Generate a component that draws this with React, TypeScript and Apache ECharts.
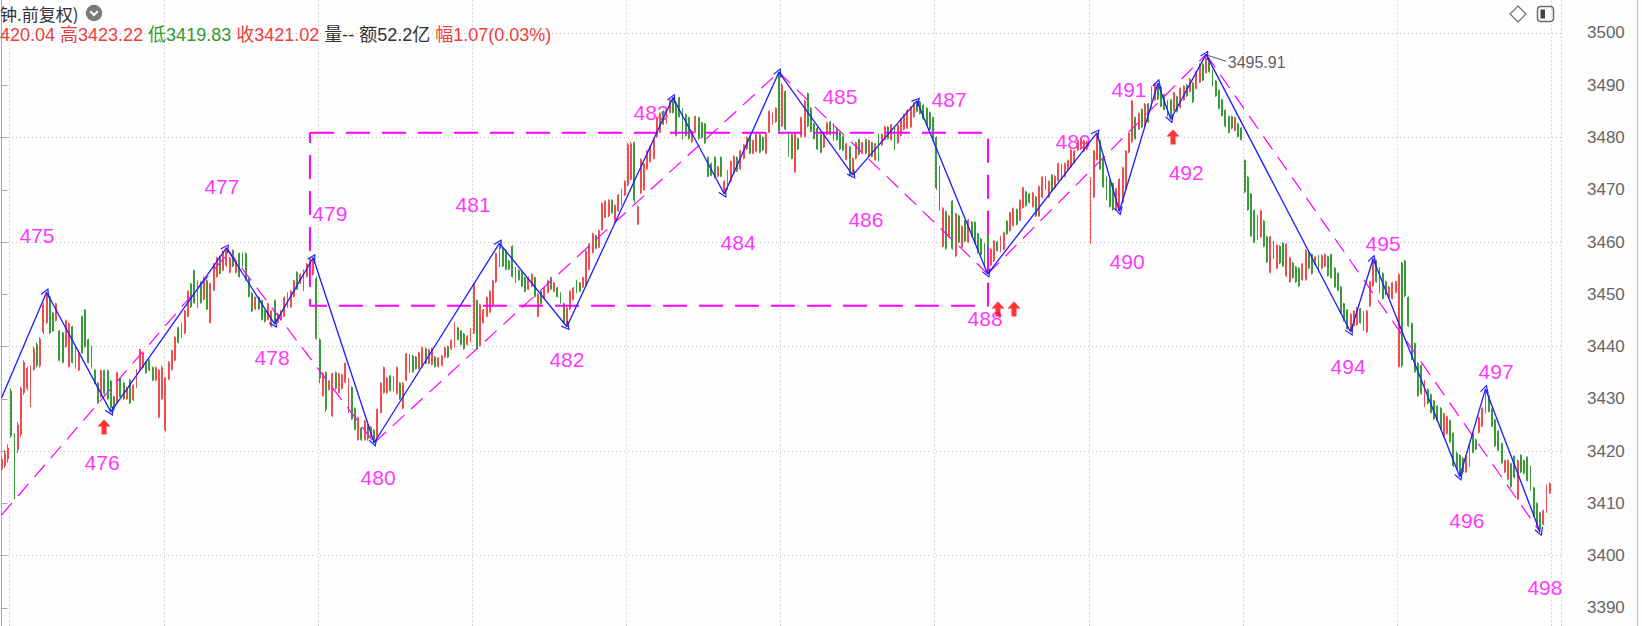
import React, { useEffect, useRef } from 'react';
import * as echarts from 'echarts';

// each bar: [open, close, low, high]
const wave475 = [
  [3416.6,3418.4,3416.2,3419.0],[3417.2,3419.6,3416.8,3420.2],[3418.5,3420.6,3417.8,3421.3],
  [3431.5,3423.0,3422.6,3432.0],[3423.0,3412.0,3410.8,3423.4],[3420.2,3425.0,3419.6,3425.6],
  [3423.2,3432.0,3422.7,3432.4],[3431.2,3437.0,3430.8,3437.4],[3432.0,3435.8,3431.6,3436.2],
  [3429.0,3436.0,3428.4,3436.4],[3435.6,3439.6,3435.4,3440.0],[3440.4,3436.4,3436.0,3440.8],
  [3436.4,3441.4,3436.0,3441.8],[3442.8,3448.0,3442.4,3448.4],[3444.6,3450.0,3444.3,3450.4],
];
const wave476 = [
  [3449.5,3442.6,3442.4,3449.8],[3446.4,3443.0,3442.8,3446.6],[3445.0,3448.2,3444.8,3448.4],
  [3443.0,3437.4,3437.2,3443.2],[3442.6,3437.0,3436.8,3442.8],[3440.0,3445.0,3439.8,3445.2],
  [3436.2,3444.4,3436.0,3444.6],[3443.8,3437.0,3436.8,3444.0],[3436.0,3440.0,3435.8,3440.2],
  [3435.5,3438.8,3435.3,3439.4],[3445.7,3438.8,3438.6,3445.9],[3447.0,3440.0,3439.8,3447.2],
  [3441.3,3437.0,3436.8,3441.5],[3440.0,3436.0,3435.8,3440.2],[3435.5,3433.0,3432.8,3435.7],
  [3433.0,3429.2,3429.0,3433.2],[3430.4,3435.4,3430.2,3435.6],[3435.4,3431.0,3430.8,3435.6],
  [3435.4,3430.0,3429.8,3435.6],[3433.4,3428.4,3427.5,3433.6],
];
const wave477 = [
  [3430.4,3428.0,3427.6,3430.6],[3429.2,3435.0,3429.0,3435.2],[3434.0,3430.4,3430.2,3434.2],
  [3433.0,3430.0,3429.8,3433.2],[3430.0,3432.0,3429.8,3432.3],[3433.6,3429.2,3429.0,3433.8],
  [3429.8,3432.6,3429.6,3432.8],[3432.3,3435.5,3432.1,3435.7],[3435.5,3439.4,3435.3,3439.6],
  [3436.0,3438.8,3435.8,3439.0],[3437.0,3435.0,3434.8,3437.2],[3437.4,3435.5,3435.3,3437.6],
  [3436.0,3433.6,3433.4,3436.2],[3433.6,3436.0,3433.4,3436.2],[3426.5,3435.5,3426.3,3435.7],
  [3430.0,3436.0,3429.8,3436.4],[3424.0,3434.0,3423.7,3434.2],
  [3433.8,3437.0,3433.6,3437.2],[3435.6,3439.2,3435.4,3439.4],[3437.4,3441.8,3437.2,3442.0],
  [3443.6,3440.8,3440.6,3443.8],[3441.8,3444.4,3441.6,3444.6],[3442.6,3446.8,3442.4,3447.0],
  [3445.8,3450.6,3445.6,3450.8],[3452.0,3447.6,3447.4,3452.2],[3454.5,3448.4,3448.2,3454.7],
  [3447.6,3452.6,3447.4,3452.8],[3452.3,3448.4,3448.2,3452.5],[3449.0,3453.2,3448.8,3453.4],
  [3452.6,3447.2,3447.0,3452.8],[3444.6,3452.0,3444.4,3452.2],[3450.8,3455.8,3450.6,3456.0],
  [3453.4,3457.0,3453.2,3457.2],[3457.0,3454.0,3453.8,3457.4],[3454.6,3458.2,3454.4,3458.4],
  [3455.6,3458.6,3455.2,3458.9],
];
const wave478 = [
  [3454.2,3457.0,3454.0,3457.2],[3458.4,3455.4,3455.2,3458.6],[3454.2,3456.4,3454.0,3456.6],
  [3457.8,3453.4,3453.2,3458.0],[3457.8,3455.4,3455.2,3458.0],[3457.8,3452.8,3452.6,3458.0],
  [3453.2,3449.6,3449.4,3453.4],[3450.2,3446.8,3446.6,3450.4],[3447.2,3449.4,3447.0,3449.6],
  [3449.4,3447.2,3447.0,3449.6],[3448.8,3445.2,3445.0,3449.0],[3446.8,3444.8,3444.6,3447.0],
  [3445.2,3448.2,3445.0,3448.4],[3443.9,3446.8,3443.7,3447.0],[3448.8,3444.6,3444.3,3449.0],
];
const wave479 = [
  [3444.6,3446.2,3444.4,3446.4],[3445.2,3446.8,3445.0,3447.0],[3445.8,3449.4,3445.6,3449.6],
  [3447.6,3450.2,3447.4,3450.4],[3447.6,3450.6,3447.4,3450.8],[3449.6,3452.6,3449.4,3452.8],
  [3454.2,3451.0,3450.8,3454.4],[3452.2,3453.8,3452.0,3454.0],[3450.8,3454.6,3450.6,3454.8],
  [3453.4,3455.8,3453.2,3456.0],[3455.2,3456.8,3455.0,3457.0],[3453.8,3456.6,3453.6,3457.0],
];
const wave480 = [
  [3453.0,3441.6,3441.3,3453.4],[3441.3,3434.0,3433.0,3441.6],[3430.6,3434.8,3430.4,3435.0],
  [3435.0,3428.0,3427.5,3435.2],[3431.8,3433.4,3431.6,3433.6],[3426.8,3434.8,3426.5,3435.0],
  [3435.0,3432.0,3431.7,3435.2],[3431.2,3434.8,3431.0,3435.0],[3432.0,3434.6,3431.8,3434.8],
  [3433.2,3436.8,3433.0,3437.0],[3427.6,3433.8,3427.3,3434.0],[3432.2,3426.2,3426.0,3432.4],
  [3428.2,3424.2,3424.0,3428.4],[3422.2,3426.4,3422.0,3426.6],[3424.4,3422.2,3422.0,3424.6],
  [3422.2,3425.8,3422.0,3426.0],[3425.0,3422.4,3422.0,3425.2],[3422.8,3424.6,3422.4,3424.8],
  [3424.0,3422.0,3421.6,3424.2],
];
const wave481 = [
  [3422.8,3428.0,3422.6,3428.2],[3427.4,3433.0,3427.2,3433.2],[3431.2,3436.0,3431.0,3436.2],
  [3431.2,3434.0,3431.0,3434.2],[3434.4,3431.6,3431.4,3434.6],[3431.6,3434.2,3431.4,3434.4],
  [3431.0,3436.0,3430.8,3436.2],[3433.0,3430.0,3429.8,3433.2],[3428.2,3433.0,3428.0,3433.2],
  [3433.6,3438.6,3433.4,3438.8],[3435.2,3438.4,3435.0,3438.6],[3438.2,3435.2,3435.0,3438.4],
  [3438.0,3435.8,3435.6,3438.2],[3435.8,3438.8,3435.6,3439.0],[3436.2,3439.8,3436.0,3440.0],
  [3439.6,3436.8,3436.6,3439.8],[3436.8,3439.4,3436.6,3439.6],[3436.6,3439.6,3436.4,3439.8],
  [3438.0,3436.2,3436.0,3438.2],[3436.2,3437.8,3436.0,3438.0],[3436.4,3438.2,3436.2,3438.4],
  [3438.0,3439.8,3437.8,3440.0],[3440.0,3438.0,3437.8,3440.2],[3439.6,3441.2,3439.4,3441.4],
  [3440.0,3444.4,3439.8,3444.6],[3443.6,3441.4,3441.2,3443.8],[3443.0,3440.4,3440.2,3443.2],
  [3442.4,3439.6,3439.4,3442.6],[3440.4,3442.0,3440.2,3442.2],[3441.0,3443.4,3440.8,3443.6],
  [3442.6,3452.0,3442.4,3452.2],[3448.8,3439.6,3439.4,3449.0],[3440.2,3448.0,3440.0,3448.2],
  [3444.6,3447.0,3444.4,3447.2],[3445.8,3449.4,3445.6,3449.6],[3446.6,3450.6,3446.4,3450.8],
  [3447.8,3452.6,3447.6,3452.8],[3452.4,3457.8,3452.2,3458.0],[3455.4,3459.6,3455.2,3459.8],
];
const wave482 = [
  [3458.8,3455.4,3455.2,3459.0],[3458.4,3454.8,3454.6,3458.6],[3456.4,3454.8,3454.6,3456.6],
  [3459.2,3453.4,3453.2,3459.4],[3455.0,3452.4,3452.2,3455.2],[3454.6,3452.8,3452.6,3454.8],
  [3454.2,3451.6,3451.4,3454.4],[3453.2,3450.6,3450.4,3453.4],[3451.0,3453.2,3450.8,3453.4],
  [3451.6,3453.8,3451.4,3454.0],[3453.2,3449.6,3449.4,3453.4],[3445.8,3450.0,3445.6,3450.2],
  [3450.6,3448.2,3448.0,3450.8],[3449.2,3451.2,3449.0,3451.4],[3450.4,3452.6,3450.2,3452.8],
  [3453.2,3451.0,3450.8,3453.4],[3450.6,3452.2,3450.4,3452.4],[3451.2,3449.6,3449.4,3451.4],
  [3450.2,3448.4,3448.2,3450.4],[3448.2,3444.6,3444.4,3448.4],[3444.0,3447.4,3443.8,3447.6],
];
const wave483 = [
  [3447.2,3450.6,3447.0,3450.8],[3449.0,3451.2,3448.8,3451.4],[3452.6,3450.4,3450.2,3452.8],
  [3452.2,3450.6,3450.4,3452.4],[3451.4,3453.2,3451.2,3453.4],[3451.6,3458.2,3451.4,3458.5],
  [3454.8,3459.6,3454.6,3459.8],[3458.0,3461.6,3457.8,3461.8],[3461.2,3458.8,3458.6,3461.4],
  [3459.0,3462.2,3458.8,3462.4],[3462.4,3467.4,3462.2,3467.6],[3464.8,3467.8,3464.6,3468.0],
  [3465.0,3468.0,3464.8,3468.2],[3468.0,3465.6,3465.4,3468.2],[3464.2,3467.0,3464.0,3467.2],
  [3466.0,3469.0,3465.8,3469.2],[3467.2,3470.0,3467.0,3470.2],[3469.0,3471.6,3468.8,3471.8],
  [3471.0,3478.6,3470.6,3479.0],[3472.0,3478.8,3471.8,3479.2],[3479.0,3468.0,3467.5,3479.2],
  [3463.4,3466.8,3463.3,3467.0],[3469.4,3475.8,3469.2,3476.0],[3470.0,3475.0,3469.8,3475.2],
  [3474.0,3477.4,3473.8,3477.6],[3475.4,3478.4,3475.2,3478.6],[3476.0,3479.6,3475.8,3479.8],
  [3480.2,3483.8,3480.0,3484.0],[3481.0,3484.6,3480.8,3484.8],[3485.0,3482.6,3482.4,3485.2],
  [3482.8,3485.4,3482.6,3485.6],[3484.8,3487.2,3484.6,3487.4],[3487.6,3484.8,3484.6,3487.6],
];
const wave484 = [
  [3486.6,3480.4,3480.2,3486.8],[3487.6,3484.0,3483.8,3487.8],[3485.4,3479.8,3479.6,3485.6],
  [3484.4,3480.4,3480.2,3484.6],[3483.8,3479.8,3479.6,3484.0],[3479.2,3481.2,3479.0,3481.4],
  [3481.0,3484.0,3480.8,3484.2],[3483.8,3479.8,3479.6,3484.0],[3482.8,3480.0,3479.8,3483.0],
  [3482.6,3479.0,3478.8,3482.8],[3476.2,3472.6,3472.4,3476.4],[3475.0,3472.8,3472.6,3475.2],
  [3476.2,3472.4,3472.2,3476.4],[3472.6,3474.4,3472.4,3474.6],[3476.2,3472.6,3472.4,3476.4],
  [3469.4,3471.6,3469.2,3471.8],
];
const wave485 = [
  [3470.2,3473.6,3470.0,3473.8],[3471.6,3475.4,3471.4,3475.6],[3473.2,3476.4,3473.0,3476.6],
  [3476.2,3473.6,3473.4,3476.4],[3474.0,3477.4,3473.8,3477.6],[3476.0,3478.6,3475.8,3478.8],
  [3477.8,3480.0,3477.6,3480.2],[3480.2,3477.0,3476.8,3480.4],[3477.0,3479.4,3476.8,3479.6],
  [3477.4,3480.6,3477.2,3480.8],[3480.6,3477.2,3477.0,3480.8],[3480.0,3477.6,3477.4,3480.2],
  [3477.0,3480.8,3476.8,3481.0],[3481.0,3485.0,3480.8,3485.2],[3482.6,3484.6,3482.4,3484.8],
  [3483.0,3485.6,3482.8,3485.8],[3492.4,3481.2,3481.0,3492.5],
];
const wave486 = [
  [3482.2,3490.0,3482.0,3490.4],[3488.8,3481.6,3481.4,3489.0],[3480.8,3476.6,3476.3,3481.0],
  [3480.6,3476.0,3475.8,3480.8],[3473.4,3480.8,3473.2,3481.0],[3479.8,3477.8,3477.6,3480.0],
  [3480.2,3483.8,3480.0,3484.0],[3480.2,3487.0,3480.0,3487.2],[3488.4,3482.2,3482.0,3488.6],
  [3485.6,3481.2,3481.0,3485.8],[3482.6,3479.8,3479.6,3482.8],[3481.8,3477.8,3477.6,3482.0],
  [3480.6,3477.2,3477.0,3480.8],[3478.2,3480.6,3478.0,3480.8],[3480.6,3482.8,3480.4,3483.0],
  [3483.0,3480.6,3480.4,3483.2],[3482.6,3479.6,3479.4,3482.8],[3481.8,3479.6,3479.4,3482.0],
  [3481.0,3477.8,3477.6,3481.2],[3480.2,3477.6,3477.4,3480.4],[3475.8,3478.8,3475.6,3479.0],
  [3478.2,3472.8,3472.6,3478.4],[3473.0,3476.0,3472.8,3476.2],
];
const wave487 = [
  [3476.0,3479.0,3475.8,3479.2],[3479.6,3476.8,3476.6,3479.8],[3477.0,3479.0,3476.8,3479.2],
  [3479.6,3477.0,3476.8,3479.8],[3476.4,3479.4,3476.2,3479.6],[3479.0,3476.4,3476.2,3479.2],
  [3475.8,3478.8,3475.6,3479.0],[3480.6,3475.6,3475.4,3480.8],[3478.6,3480.6,3478.4,3480.8],
  [3479.6,3482.0,3479.4,3482.2],[3482.0,3479.8,3479.6,3482.2],[3479.6,3482.4,3479.4,3482.6],
  [3481.8,3477.8,3477.6,3482.0],[3479.0,3482.4,3478.8,3482.6],[3480.4,3483.6,3480.2,3483.8],
  [3481.6,3484.4,3481.4,3484.6],[3481.8,3485.2,3481.6,3485.4],[3482.0,3485.8,3481.8,3486.0],
  [3484.0,3486.6,3483.8,3486.8],[3487.0,3485.0,3484.8,3487.0],
];
const wave488 = [
  [3486.8,3484.6,3484.4,3487.0],[3486.2,3483.6,3483.4,3486.4],[3485.6,3482.4,3482.2,3485.8],
  [3484.8,3481.6,3481.4,3485.0],[3483.8,3479.6,3479.4,3484.0],[3480.0,3470.4,3470.0,3480.2],
  [3474.4,3466.2,3466.0,3474.6],[3459.2,3466.4,3459.0,3466.7],[3465.8,3458.8,3458.5,3466.0],
  [3461.0,3465.0,3460.8,3465.2],[3467.8,3458.8,3458.5,3468.0],[3457.4,3465.4,3457.1,3465.6],
  [3465.0,3460.0,3459.8,3465.2],[3459.0,3463.0,3458.8,3463.2],[3464.0,3460.2,3460.0,3464.2],
  [3460.0,3464.2,3459.8,3464.4],[3463.8,3461.2,3461.0,3464.0],[3463.8,3459.8,3459.6,3464.0],
  [3461.6,3458.0,3457.8,3461.8],[3460.6,3457.6,3457.4,3460.8],[3459.6,3455.4,3455.2,3459.8],
  [3461.4,3454.0,3453.9,3461.7],
];
const wave489 = [
  [3455.6,3458.6,3455.4,3458.8],[3456.4,3460.2,3456.2,3460.4],[3460.0,3458.4,3458.2,3460.2],
  [3458.2,3461.0,3458.0,3461.2],[3458.6,3461.8,3458.4,3462.0],[3464.0,3461.6,3461.4,3464.2],
  [3462.2,3465.6,3462.0,3465.8],[3463.2,3466.4,3463.0,3466.6],[3466.2,3463.4,3463.2,3466.4],
  [3464.2,3468.0,3464.0,3468.2],[3466.6,3470.4,3466.4,3470.6],[3469.6,3467.0,3466.8,3469.8],
  [3469.2,3467.6,3467.4,3469.4],[3466.8,3469.4,3466.6,3469.6],[3468.6,3465.0,3464.8,3468.8],
  [3465.0,3470.6,3464.8,3470.8],[3468.6,3472.4,3468.4,3472.6],[3472.4,3470.2,3470.0,3472.6],
  [3468.6,3471.6,3468.4,3471.8],[3472.8,3470.0,3469.8,3473.0],[3470.4,3472.6,3470.2,3472.8],
  [3471.8,3475.0,3471.6,3475.2],[3474.8,3472.0,3471.8,3475.0],[3472.6,3475.0,3472.4,3475.2],
  [3473.8,3475.6,3473.6,3475.8],[3474.4,3477.6,3474.2,3477.8],[3475.2,3477.4,3475.0,3477.6],
  [3477.6,3479.4,3477.4,3479.6],[3477.8,3479.6,3477.6,3479.8],[3477.4,3479.4,3477.2,3479.6],
  [3477.8,3479.2,3477.6,3479.4],[3459.8,3472.2,3459.6,3472.4],[3468.6,3477.4,3468.4,3477.6],
  [3475.8,3480.6,3475.6,3480.9],
];
const wave490 = [
  [3479.4,3474.0,3473.8,3479.6],[3476.2,3470.6,3470.4,3476.4],[3472.4,3468.2,3468.0,3472.6],
  [3471.8,3466.8,3466.6,3472.0],[3471.2,3466.2,3466.0,3471.4],[3466.2,3470.2,3466.0,3470.4],
  [3466.0,3472.0,3465.9,3472.2],
];
const wave491 = [
  [3467.6,3474.2,3467.4,3474.4],[3470.2,3477.4,3470.0,3477.6],[3477.2,3480.8,3477.0,3481.0],
  [3479.2,3487.0,3479.0,3487.2],[3483.8,3479.8,3479.6,3484.0],[3481.6,3484.6,3481.4,3484.8],
  [3485.4,3482.0,3481.8,3485.6],[3482.2,3486.4,3482.0,3486.6],[3486.4,3483.0,3482.8,3486.6],
  [3485.8,3489.6,3485.6,3489.8],[3487.2,3490.2,3487.0,3490.4],[3490.2,3487.4,3487.2,3490.4],
];
const wave492 = [
  [3489.6,3486.0,3485.8,3489.8],[3488.2,3485.4,3485.2,3488.4],[3487.0,3484.2,3484.0,3487.2],
  [3487.2,3484.0,3483.5,3487.4],
];
const wave493 = [
  [3485.2,3488.6,3485.0,3488.8],[3487.8,3485.0,3484.8,3488.0],[3485.8,3489.4,3485.6,3489.6],
  [3487.2,3489.8,3487.0,3490.0],[3490.0,3488.0,3487.8,3490.2],[3488.8,3491.2,3488.6,3491.4],
  [3490.4,3486.8,3486.6,3490.6],[3489.4,3492.6,3489.2,3492.8],[3490.6,3494.0,3490.4,3494.2],
  [3494.0,3491.0,3490.8,3494.2],[3492.4,3495.2,3492.2,3495.91],
];
const wave494 = [
  [3495.0,3492.6,3492.4,3495.2],[3492.8,3490.0,3489.8,3493.0],[3490.8,3488.0,3487.8,3491.0],
  [3489.0,3485.6,3485.4,3489.2],[3487.2,3484.2,3484.0,3487.4],[3485.2,3482.2,3482.0,3485.4],
  [3484.0,3481.0,3480.8,3484.2],[3484.0,3481.8,3481.6,3484.2],[3481.4,3483.8,3481.2,3484.0],
  [3482.6,3480.2,3480.0,3482.8],[3481.8,3479.6,3479.4,3482.0],[3475.6,3469.6,3469.4,3475.8],
  [3472.4,3466.2,3466.0,3472.6],[3469.2,3461.2,3461.0,3469.4],[3466.0,3460.0,3459.8,3466.2],
  [3460.6,3465.0,3460.4,3465.2],[3461.0,3466.0,3460.8,3466.2],[3464.0,3459.2,3459.0,3464.2],
  [3461.0,3456.2,3456.0,3461.2],[3454.2,3461.0,3454.0,3461.2],[3460.0,3457.0,3456.8,3460.2],
  [3455.0,3459.4,3454.8,3459.6],[3459.2,3456.0,3455.8,3459.4],[3459.8,3455.4,3455.2,3460.0],
  [3453.6,3459.6,3453.3,3459.8],[3452.4,3457.0,3452.2,3457.2],[3456.0,3453.2,3453.0,3456.2],
  [3455.2,3452.4,3452.2,3455.4],[3455.0,3451.6,3451.4,3455.2],[3452.8,3455.8,3452.6,3456.0],
  [3452.8,3458.4,3452.6,3458.6],[3458.0,3455.0,3454.8,3458.2],[3457.6,3454.0,3453.8,3457.8],
  [3455.6,3457.2,3455.4,3457.4],[3457.4,3454.4,3454.2,3457.6],[3455.0,3457.4,3454.8,3457.6],
  [3455.4,3457.6,3455.2,3457.8],[3457.2,3453.6,3453.4,3457.4],[3457.6,3453.2,3453.0,3457.8],
  [3455.0,3451.4,3451.2,3455.2],[3454.0,3450.8,3450.6,3454.2],[3451.4,3446.4,3446.2,3451.6],
  [3448.2,3445.0,3444.8,3448.4],[3447.0,3443.4,3443.2,3447.2],[3443.0,3446.2,3442.8,3446.4],
];
const wave495 = [
  [3444.0,3446.8,3443.8,3447.0],[3444.2,3447.4,3444.0,3447.6],[3447.2,3444.6,3444.4,3447.4],
  [3443.2,3446.6,3443.0,3446.8],[3442.8,3446.8,3442.6,3447.0],[3447.8,3452.4,3447.6,3452.6],
  [3451.6,3456.4,3451.4,3456.8],
];
const wave496 = [
  [3456.4,3452.4,3452.2,3456.6],[3455.0,3450.4,3450.2,3455.2],[3454.0,3449.2,3449.0,3454.2],
  [3452.4,3450.0,3449.8,3452.6],[3449.4,3451.4,3449.2,3451.6],[3449.2,3452.2,3449.0,3452.4],
  [3450.4,3452.4,3450.2,3452.6],[3436.2,3453.8,3436.0,3454.0],[3456.0,3436.4,3436.0,3456.2],
  [3456.4,3449.8,3449.5,3456.6],[3449.4,3444.0,3443.8,3449.6],[3444.4,3437.6,3437.4,3444.6],
  [3440.6,3435.2,3435.0,3440.8],[3436.8,3430.6,3430.4,3437.0],[3436.4,3431.0,3430.8,3436.6],
  [3428.6,3433.4,3428.4,3433.6],[3431.8,3429.2,3429.0,3432.0],[3430.8,3427.4,3427.2,3431.0],
  [3429.6,3426.2,3426.0,3429.8],[3428.6,3425.8,3425.6,3428.8],[3428.2,3424.2,3424.0,3428.4],
  [3422.8,3427.2,3422.6,3427.4],[3423.4,3426.6,3423.2,3426.8],[3425.8,3421.8,3421.6,3426.0],
  [3423.4,3417.2,3417.0,3423.6],[3419.6,3416.6,3416.4,3419.8],[3419.2,3415.4,3415.1,3419.4],
];
const wave497 = [
  [3418.6,3416.0,3415.6,3418.8],[3416.0,3419.0,3415.8,3419.2],[3417.2,3421.4,3417.0,3421.6],
  [3423.4,3419.8,3419.6,3423.6],[3422.2,3420.4,3420.2,3422.4],[3423.6,3426.4,3423.4,3426.6],
  [3424.8,3428.2,3424.6,3428.4],[3427.4,3431.0,3427.2,3431.9],
];
const wave498 = [
  [3430.6,3427.6,3427.4,3430.8],[3428.0,3424.8,3424.6,3428.2],[3426.0,3421.0,3420.8,3426.2],
  [3423.8,3420.2,3420.0,3424.0],[3421.4,3417.8,3417.6,3421.6],[3416.0,3418.2,3415.8,3418.4],
  [3414.6,3418.2,3414.4,3418.4],[3417.6,3413.2,3413.0,3417.8],[3419.0,3415.0,3414.8,3419.2],
  [3410.8,3418.2,3410.6,3418.4],[3419.2,3416.0,3415.8,3419.4],[3418.2,3415.8,3415.6,3418.4],
  [3418.8,3414.4,3414.2,3419.0],[3417.0,3412.6,3412.4,3417.2],[3413.0,3407.6,3407.4,3413.2],
  [3410.0,3405.6,3405.4,3410.2],[3408.2,3405.0,3404.5,3408.4],
];
const afterWave498 = [
  [3406.0,3408.6,3405.8,3408.8],[3408.4,3413.4,3408.2,3413.6],[3412.0,3413.8,3411.8,3414.0],
];

const SLOT_COUNT = 486; // bar slots across the plot (last 3 empty)
const DAY_FIRST_SLOT = 3;
const BARS_PER_DAY = 48;

// zigzag pivots [bar index, price]
const pivots = [
  [0, 3430.2], [14, 3450.4], [34, 3427.5], [70, 3458.9], [85, 3444.3], [97, 3457.0],
  [116, 3421.6], [155, 3459.8], [176, 3443.8], [209, 3487.6], [225, 3469.2], [242, 3492.5],
  [265, 3472.8], [285, 3487.0], [307, 3453.9], [341, 3480.9], [348, 3465.9], [360, 3490.4],
  [364, 3483.5], [375, 3495.91], [420, 3442.8], [427, 3456.8], [454, 3415.1], [462, 3431.9],
  [479, 3404.5],
];

// magenta dashed channel lines
const channelLines = [
  [[0, 3407.8], [70, 3457.5]],
  [[70, 3458.9], [116, 3421.6]],
  [[116, 3421.6], [242, 3492.5]],
  [[242, 3492.5], [307, 3453.9]],
  [[307, 3453.9], [375, 3495.91]],
  [[375, 3495.91], [479, 3404.5]],
];

// dashed box corners
const boxLeft = 96.0, boxRight = 307.1, boxTop = 3480.9, boxBottom = 3447.8;

// wave number labels [text, bar position, price position]
const waveLabels = [
  ['475', 11.0, 3461.2], ['476', 31.3, 3417.9], ['477', 68.6, 3470.7], ['478', 84.2, 3438.0],
  ['479', 102.2, 3465.4], ['480', 117.2, 3414.9], ['481', 146.8, 3467.1], ['482', 176.0, 3437.6],
  ['483', 202.2, 3484.7], ['484', 229.3, 3460.0], ['485', 261.0, 3487.9], ['486', 269.1, 3464.4],
  ['487', 295.0, 3487.2], ['488', 306.2, 3445.3], ['489', 333.6, 3479.3], ['490', 350.4, 3456.2],
  ['491', 351.0, 3489.1], ['492', 368.8, 3473.4], ['494', 419.2, 3436.1], ['495', 430.1, 3459.8],
  ['496', 456.2, 3406.8], ['497', 465.3, 3435.3], ['498', 480.5, 3394.0],
];

// red buy-signal arrows [bar position, price]
const signalArrows = [[31.9, 3424.6], [310.2, 3447.2], [315.2, 3447.2], [364.7, 3480.1]];

const peakText = '3495.91';
const peakLabelPos = [381.6, 3494.45];
const peakLeader = [[375.6, 3495.7], [381.2, 3494.6]];

const Y_MIN = 3380, Y_MAX = 3510, Y_STEP = 10;

const RED = '#f04e4e';
const GREEN = '#3a9a3a';
const MAGENTA = '#ff00ff';
const BLUE = '#1c1cff';

export default function App() {
  const ref = useRef<HTMLDivElement>(null);
  useEffect(() => {
    if (!ref.current) return;
    const chart = echarts.init(ref.current, null, { renderer: 'svg' });
    const candles = [
      ...wave475, ...wave476, ...wave477, ...wave478, ...wave479, ...wave480, ...wave481,
      ...wave482, ...wave483, ...wave484, ...wave485, ...wave486, ...wave487, ...wave488,
      ...wave489, ...wave490, ...wave491, ...wave492, ...wave493, ...wave494, ...wave495,
      ...wave496, ...wave497, ...wave498, ...afterWave498,
    ];
    const slots = Array.from({ length: SLOT_COUNT }, (_, i) => String(i));
    const zigzag = pivots.slice(1).map((p, i) => ({ coords: [pivots[i], p] }));
    const box = [
      [boxLeft, boxTop], [boxRight, boxTop], [boxRight, boxBottom], [boxLeft, boxBottom], [boxLeft, boxTop],
    ];
    const chevron = 'path://M5,0 L10,9 L9,10 L5,2.6 L1,10 L0,9 Z';
    const upArrow = 'path://M6.5,0 L13,7 L9,7 L9,15 L4,15 L4,7 L0,7 Z';
    const latin = '"Liberation Sans", "Noto Sans CJK SC", sans-serif';

    const option: any = {
      animation: false,
      backgroundColor: '#fdfdfd',
      grid: {
        left: 0, right: 81, top: -19.27, bottom: -34.2,
        containLabel: false, outerBoundsMode: 'none',
      },
      xAxis: [
        {
          type: 'category', data: slots, gridIndex: 0,
          axisLine: { show: false }, axisTick: { show: false }, axisLabel: { show: false },
          splitLine: {
            show: true,
            interval: (i: number) => i >= DAY_FIRST_SLOT && (i - DAY_FIRST_SLOT) % BARS_PER_DAY === 0,
            lineStyle: { color: '#b9b9b9', type: [1, 3], width: 1 },
          },
        },
        { type: 'value', min: -0.5, max: SLOT_COUNT - 0.5, show: false, gridIndex: 0 },
      ],
      yAxis: {
        type: 'value', position: 'right', min: Y_MIN, max: Y_MAX, interval: Y_STEP,
        axisLine: { show: true, lineStyle: { color: '#aaaaaa', width: 1 } },
        axisTick: { show: true, length: 6, lineStyle: { color: '#aaaaaa' } },
        axisLabel: {
          margin: 26, color: '#666', fontSize: 17, fontFamily: latin,
          showMinLabel: false, showMaxLabel: false,
          formatter: (v: number) => String(v),
        },
        splitLine: { show: true, lineStyle: { color: ['#c2c2c2', 'rgba(0,0,0,0)'], type: [1, 3], width: 1 } },
      },
      series: [
        {
          type: 'candlestick', data: candles, xAxisIndex: 0, yAxisIndex: 0, barWidth: 1.4, z: 2,
          itemStyle: { color: RED, color0: GREEN, borderColor: RED, borderColor0: GREEN, borderWidth: 1 },
        },
        {
          type: 'scatter', xAxisIndex: 1, yAxisIndex: 0, z: 1, silent: true,
          data: waveLabels.map(([t, x, y]) => ({ name: t, value: [x, y] })),
          symbolSize: 1, itemStyle: { color: 'rgba(0,0,0,0)' },
          label: { show: true, position: 'inside', formatter: '{b}', color: MAGENTA, fontSize: 21, fontFamily: latin },
        },
        {
          type: 'lines', coordinateSystem: 'cartesian2d', xAxisIndex: 1, yAxisIndex: 0, z: 3, silent: true,
          data: channelLines.map((c) => ({ coords: c })),
          symbol: 'none',
          lineStyle: { color: MAGENTA, width: 1.2, type: [16, 9], opacity: 1 },
        },
        {
          type: 'line', xAxisIndex: 1, yAxisIndex: 0, z: 3, silent: true, data: box, symbol: 'none',
          lineStyle: { color: MAGENTA, width: 2, type: [24, 12] },
        },
        {
          type: 'lines', coordinateSystem: 'cartesian2d', xAxisIndex: 1, yAxisIndex: 0, z: 4, silent: true,
          data: zigzag, symbol: ['none', chevron], symbolSize: 9,
          lineStyle: { color: BLUE, width: 1.3, opacity: 1 },
        },
        {
          type: 'scatter', xAxisIndex: 1, yAxisIndex: 0, z: 5, silent: true,
          data: signalArrows, symbol: upArrow, symbolSize: [13, 15], itemStyle: { color: '#ff0000' },
        },
        {
          type: 'lines', coordinateSystem: 'cartesian2d', xAxisIndex: 1, yAxisIndex: 0, z: 5, silent: true,
          data: [{ coords: peakLeader }], symbol: 'none', lineStyle: { color: '#555', width: 1, opacity: 1 },
        },
        {
          type: 'scatter', xAxisIndex: 1, yAxisIndex: 0, z: 5, silent: true,
          data: [{ name: peakText, value: peakLabelPos }], symbolSize: 1, itemStyle: { color: 'rgba(0,0,0,0)' },
          label: { show: true, position: 'right', distance: 0, formatter: '{b}', color: '#333', fontSize: 16, fontFamily: latin },
        },
      ],
      graphic: [
        {
          type: 'text', x: 0, y: 13, z: 10,
          style: { text: '钟.前复权)', fill: '#333', fontSize: 17, fontFamily: '"Noto Sans CJK SC"', verticalAlign: 'middle' },
        },
        { type: 'circle', shape: { cx: 94, cy: 13, r: 8.2 }, style: { fill: '#7a7a7a' }, z: 10 },
        {
          type: 'polyline', shape: { points: [[90.2, 11.2], [94, 15], [97.8, 11.2]] },
          style: { stroke: '#fff', lineWidth: 2, fill: null }, z: 11,
        },
        {
          type: 'text', x: 0, y: 35, z: 10,
          style: {
            text: '{r|420.04} {r|高3423.22} {g|低3419.83} {r|收3421.02} {k|量-- 额52.2亿} {r|幅1.07(0.03%)}',
            verticalAlign: 'middle', fontSize: 18, fontFamily: latin,
            rich: {
              r: { fill: '#f03c3c', fontSize: 18, fontFamily: latin },
              g: { fill: '#2f9a2f', fontSize: 18, fontFamily: latin },
              k: { fill: '#333333', fontSize: 18, fontFamily: latin },
            },
          },
        },
        {
          type: 'polygon', shape: { points: [[1518, 6], [1526, 14], [1518, 22], [1510, 14]] },
          style: { fill: null, stroke: '#6e6e6e', lineWidth: 1.2 }, z: 10,
        },
        {
          type: 'rect', shape: { x: 1537.5, y: 6.5, width: 16, height: 15, r: 3 },
          style: { fill: null, stroke: '#6e6e6e', lineWidth: 1.5 }, z: 10,
        },
        { type: 'rect', shape: { x: 1540.5, y: 9.5, width: 4.5, height: 9 }, style: { fill: '#444' }, z: 10 },
        {
          type: 'line', shape: { x1: 1637.5, y1: 0, x2: 1637.5, y2: 626 },
          style: { stroke: '#bdbdbd', lineWidth: 1 }, z: 10,
        },
      ],
    };
    chart.setOption(option);
    return () => chart.dispose();
  }, []);
  return (
    <div
      ref={ref}
      style={{ position: 'absolute', left: 0, top: 0, width: 1642, height: 626, background: '#fdfdfd' }}
    />
  );
}
